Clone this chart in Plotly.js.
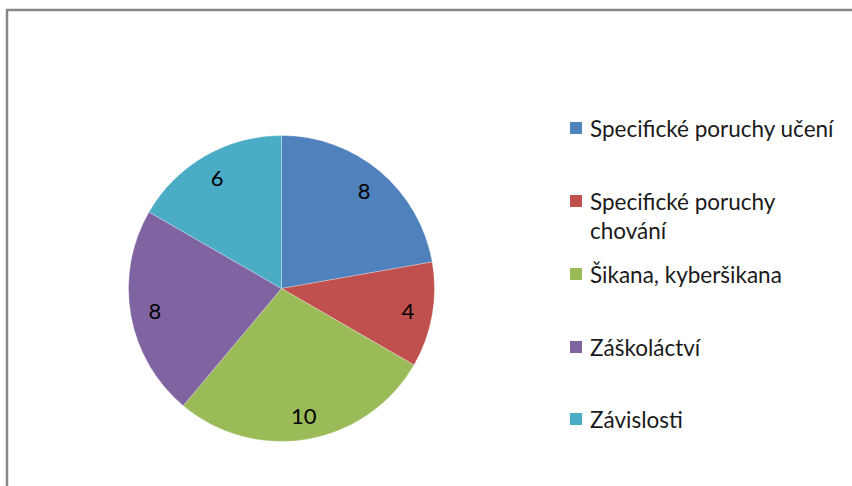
<!DOCTYPE html>
<html>
<head>
<meta charset="utf-8">
<script src="https://cdn.plot.ly/plotly-3.0.1.min.js"></script>
<style>
  html, body { margin: 0; padding: 0; background: #ffffff; }
  #chart { width: 852px; height: 486px; }
</style>
</head>
<body>
<div id="chart"></div>
<script>
// ---- data ----
const categories = [
  "Specifické poruchy učení",
  "Specifické poruchy chování",
  "Šikana, kyberšikana",
  "Záškoláctví",
  "Závislosti"
];
const values = [8, 4, 10, 8, 6];
const colors = ["#4F81BD", "#C0504D", "#9BBB59", "#8064A2", "#4BACC6"];

// ---- layout helpers (presentation only) ----
const W = 852, H = 486;
const FONT = "Lato, Noto Sans, Open Sans, sans-serif";
const legendRowsY = [128, 201, 274, 347, 419];   // pixel centers of legend rows
const legendMarkerX = 570, legendTextX = 588, markerSize = 12;
function wrapLabel(s) {
  return s.length > 24 ? s.replace(/ (\S+)$/, "<br>$1") : s;
}

const shapes = [];
const annotations = [];

// outer chart frame (only left & top visible in the crop)
shapes.push({
  type: "rect", xref: "paper", yref: "paper",
  x0: 7 / W, x1: 1.02, y0: -0.02, y1: 1 - 10 / H,
  line: { color: "#878787", width: 2.5 }, fillcolor: "rgba(0,0,0,0)", layer: "above"
});

categories.forEach((c, i) => {
  const yc = legendRowsY[i];
  shapes.push({
    type: "rect", xref: "paper", yref: "paper",
    x0: legendMarkerX / W, x1: (legendMarkerX + markerSize) / W,
    y0: 1 - (yc + markerSize / 2) / H, y1: 1 - (yc - markerSize / 2) / H,
    fillcolor: colors[i], line: { width: 0 }
  });
  annotations.push({
    xref: "paper", yref: "paper",
    x: legendTextX / W, y: 1 - (yc - 15) / H,
    xanchor: "left", yanchor: "top", align: "left",
    text: wrapLabel(c), showarrow: false,
    font: { family: FONT, size: 22.5, color: "#1a1a1a" }
  });
});

const cx = 281.5, cy = 288.5, R = 153;
const domain = {
  x: [(cx - R) / W, (cx + R) / W],
  y: [1 - (cy + R) / H, 1 - (cy - R) / H]
};

// filled slices
const slices = {
  type: "pie",
  labels: categories,
  values: values,
  marker: { colors: colors, line: { color: "rgba(255,255,255,0.35)", width: 0.8 } },
  sort: false,
  direction: "clockwise",
  rotation: 0,
  textinfo: "none",
  hoverinfo: "label+value",
  showlegend: false,
  domain: domain
};

// transparent ring carrying the value labels near the rim
const labelsRing = {
  type: "pie",
  labels: categories,
  values: values,
  hole: 0.68,
  marker: { colors: categories.map(() => "rgba(0,0,0,0)"), line: { width: 0 } },
  sort: false,
  direction: "clockwise",
  rotation: 0,
  textinfo: "value",
  textposition: "inside",
  insidetextorientation: "horizontal",
  textfont: { family: FONT, size: 22, color: "#000000" },
  hoverinfo: "skip",
  showlegend: false,
  domain: domain
};

const layout = {
  width: W, height: H,
  margin: { l: 0, r: 0, t: 0, b: 0 },
  paper_bgcolor: "#ffffff",
  showlegend: false,
  shapes: shapes,
  annotations: annotations,
  font: { family: FONT }
};

Plotly.newPlot("chart", [slices, labelsRing], layout, { displayModeBar: false, staticPlot: true });
</script>
</body>
</html>
